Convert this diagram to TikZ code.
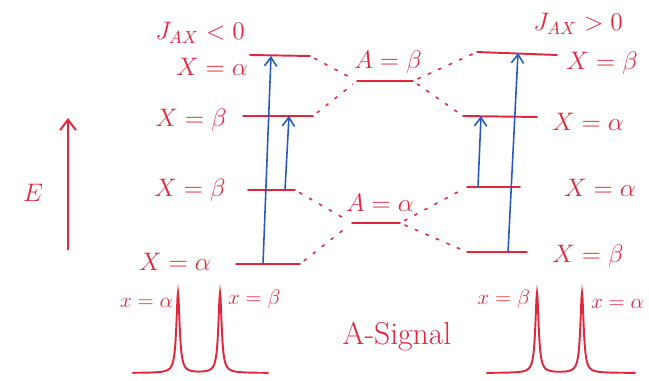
\documentclass[tikz,border=0pt]{standalone}
\usepackage{tikz}
\usetikzlibrary{arrows.meta, calc}
\definecolor{pen}{RGB}{226,38,62}
\definecolor{ink}{RGB}{38,88,196}

\begin{document}
\begin{tikzpicture}[x=0.02cm, y=-0.02cm,
        level/.style={pen, line width=1.1pt, line cap=round},
        corr/.style={pen, line width=0.9pt, dash pattern=on 1.5pt off 5pt, line cap=round, shorten <=3pt, shorten >=3pt},
        trans/.style={ink, line width=0.9pt, -{Straight Barb[length=5pt,width=7pt]}},
        lab/.style={pen, font=\fontsize{15}{18}\selectfont},
        small/.style={pen, font=\fontsize{12}{14}\selectfont, inner sep=1pt}]
        \useasboundingbox (0,0) rectangle (649,381);

        % Energy axis
        \coordinate (eb) at (68,250);
        \coordinate (et) at (68,118);
        \draw[pen, line width=1.1pt, -{Straight Barb[length=6pt,width=9pt]}] (eb) -- (et);
        \node[lab] (elab) at (33,193) {$E$};

        % Levels, J_AX < 0
        \coordinate (l1w) at (250,55);  \coordinate (l1e) at (310,56);
        \coordinate (l2w) at (243,116); \coordinate (l2e) at (313,116);
        \coordinate (l3w) at (248,190); \coordinate (l3e) at (295,190);
        \coordinate (l4w) at (236,264); \coordinate (l4e) at (300,264);

        % Levels without coupling
        \coordinate (bw) at (357,81);  \coordinate (be) at (413,81);
        \coordinate (aw) at (352,223); \coordinate (ae) at (400,223);

        % Levels, J_AX > 0
        \coordinate (r1w) at (477,52);  \coordinate (r1e) at (557,55);
        \coordinate (r2w) at (463,116); \coordinate (r2e) at (537,117);
        \coordinate (r3w) at (467,187); \coordinate (r3e) at (520,187);
        \coordinate (r4w) at (467,252); \coordinate (r4e) at (527,252);

        \foreach \l in {l1,l2,l3,l4,b,a,r1,r2,r3,r4}
            \draw[level] (\l w) -- (\l e);

        % Correlation lines
        \draw[corr] (l1e) -- (bw);
        \draw[corr] (l2e) -- (bw);
        \draw[corr] (be) -- (r1w);
        \draw[corr] (be) -- (r2w);
        \draw[corr] (l3e) -- (aw);
        \draw[corr] (l4e) -- (aw);
        \draw[corr] (ae) -- (r3w);
        \draw[corr] (ae) -- (r4w);

        % A transitions
        \coordinate (t1) at (263,264); \coordinate (h1) at (271,56);
        \coordinate (t2) at (285,190); \coordinate (h2) at (289,116);
        \coordinate (t3) at (478,187); \coordinate (h3) at (481,116);
        \coordinate (t4) at (508,252); \coordinate (h4) at (518,53);
        \draw[trans] (t1) -- (h1);
        \draw[trans] (t2) -- (h2);
        \draw[trans] (t3) -- (h3);
        \draw[trans] (t4) -- (h4);

        % Level labels
        \node[lab] (l1lab) at (212,67) {$X=\alpha$};
        \node[lab] (l2lab) at (191,120) {$X=\beta$};
        \node[lab] (l3lab) at (190,190) {$X=\beta$};
        \node[lab] (l4lab) at (175,262) {$X=\alpha$};
        \node[lab] (blab) at (388,62) {$A=\beta$};
        \node[lab] (alab) at (380,203) {$A=\alpha$};
        \node[lab] (r1lab) at (602,63) {$X=\beta$};
        \node[lab] (r2lab) at (588,122) {$X=\alpha$};
        \node[lab] (r3lab) at (600,188) {$X=\alpha$};
        \node[lab] (r4lab) at (588,256) {$X=\beta$};

        % Sign of the coupling
        \node[pen, font=\fontsize{14}{16}\selectfont] (jneg) at (200,33) {$J_{AX}<0$};
        \node[pen, font=\fontsize{14}{16}\selectfont] (jpos) at (578,24) {$J_{AX}>0$};

        % Spectra
        \draw[level] plot[domain=133:268, samples=271]
            (\x, {373-80*(4/((\x-178)*(\x-178)+4)+4/((\x-220)*(\x-220)+4))});
        \draw[level] plot[domain=487:635, samples=297]
            (\x, {373-80*(4/((\x-537)*(\x-537)+4)+4/((\x-582)*(\x-582)+4))});
        \node[small, anchor=east] (pa) at (175,303) {$x=\alpha$};
        \node[small, anchor=west] (pb) at (226,299) {$x=\beta$};
        \node[small, anchor=east] (pc) at (532,299) {$x=\beta$};
        \node[small, anchor=west] (pd) at (589,304) {$x=\alpha$};
        \node[pen, font=\fontsize{18}{20}\selectfont] (sig) at (397,337) {A-Signal};
\end{tikzpicture}
\end{document}
